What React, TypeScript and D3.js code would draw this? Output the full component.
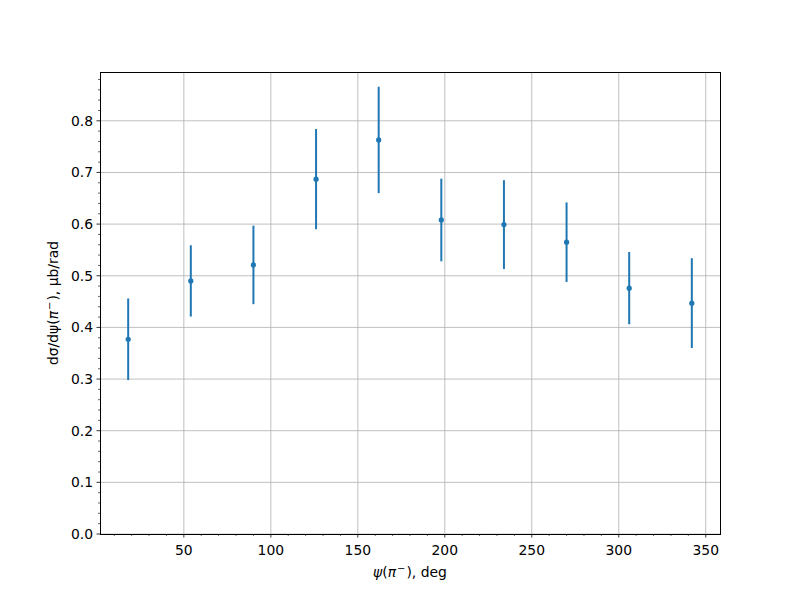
import React from "react";
import * as d3 from "d3";

const angles = [18, 54, 90, 126, 162, 198, 234, 270, 306, 342];
const values = [0.377, 0.490, 0.521, 0.687, 0.763, 0.608, 0.599, 0.565, 0.476, 0.447];
const errors = [0.079, 0.069, 0.076, 0.097, 0.103, 0.080, 0.086, 0.077, 0.070, 0.087];
const xTicks = [50, 100, 150, 200, 250, 300, 350];
const yTicks = [0, 0.1, 0.2, 0.3, 0.4, 0.5, 0.6, 0.7, 0.8];

const W = 800, H = 600;
const L = 100, R = 720, T = 72, B = 534;
const color = "#1f77b4";
const font = "DejaVu Sans, sans-serif";

export default function App() {
  const x = d3.scaleLinear().domain([1.8, 358.2]).range([L, R]);
  const y = d3.scaleLinear().domain([0, 0.8945]).range([B, T]);
  const xMinor = d3.range(10, 360, 10).filter((v) => v % 50 !== 0 && x(v) >= L && x(v) <= R);
  const yMinor = d3.range(0, 0.9, 0.02).filter((v) => Math.abs(v * 10 - Math.round(v * 10)) > 1e-6 && y(v) >= T);
  return (
    <svg width={W} height={H} style={{ position: "absolute", left: 0, top: 0, background: "#fff" }}>
      <rect x={0} y={0} width={W} height={H} fill="#fff" />
      {xTicks.map((t) => (
        <line key={"gx" + t} x1={x(t)} x2={x(t)} y1={T} y2={B} stroke="#b0b0b0" strokeWidth={0.8} />
      ))}
      {yTicks.map((t) => (
        <line key={"gy" + t} x1={L} x2={R} y1={y(t)} y2={y(t)} stroke="#b0b0b0" strokeWidth={0.8} />
      ))}
      {angles.map((a, i) => (
        <g key={"p" + i}>
          <line x1={x(a)} x2={x(a)} y1={y(values[i] - errors[i])} y2={y(values[i] + errors[i])} stroke={color} strokeWidth={2} />
          <circle cx={x(a)} cy={y(values[i])} r={2.6} fill={color} />
        </g>
      ))}
      <rect x={L} y={T} width={R - L} height={B - T} fill="none" stroke="#000" strokeWidth={1} shapeRendering="crispEdges" />
      {xTicks.map((t) => (
        <g key={"xt" + t}>
          <line x1={x(t)} x2={x(t)} y1={B} y2={B + 3.5} stroke="#000" strokeWidth={0.8} />
          <text x={x(t)} y={B + 17} textAnchor="middle" fontFamily={font} fontSize={13.9} dominantBaseline="middle">{t}</text>
        </g>
      ))}
      {xMinor.map((t) => (
        <line key={"xm" + t} x1={x(t)} x2={x(t)} y1={B} y2={B + 2} stroke="#000" strokeWidth={0.6} />
      ))}
      {yTicks.map((t) => (
        <g key={"yt" + t}>
          <line x1={L - 3.5} x2={L} y1={y(t)} y2={y(t)} stroke="#000" strokeWidth={0.8} />
          <text x={L - 7} y={y(t)} textAnchor="end" fontFamily={font} fontSize={13.9} dominantBaseline="central">{t.toFixed(1)}</text>
        </g>
      ))}
      {yMinor.map((t, i) => (
        <line key={"ym" + i} x1={L - 2} x2={L} y1={y(t)} y2={y(t)} stroke="#000" strokeWidth={0.6} />
      ))}
      <text x={(L + R) / 2} y={577} textAnchor="middle" fontFamily={font} fontSize={13.9}>
        <tspan fontStyle="italic">ψ</tspan>(<tspan fontStyle="italic">π</tspan>
        <tspan dy={-5} dx={1} fontSize={10}>−</tspan>
        <tspan dy={5} dx={1}>), deg</tspan>
      </text>
      <text transform={`translate(58, ${(T + B) / 2}) rotate(-90)`} textAnchor="middle" fontFamily={font} fontSize={13.9}>
        dσ/dψ(<tspan fontStyle="italic">π</tspan>
        <tspan dy={-5} dx={1} fontSize={10}>−</tspan>
        <tspan dy={5} dx={1}>), μb/rad</tspan>
      </text>
    </svg>
  );
}
